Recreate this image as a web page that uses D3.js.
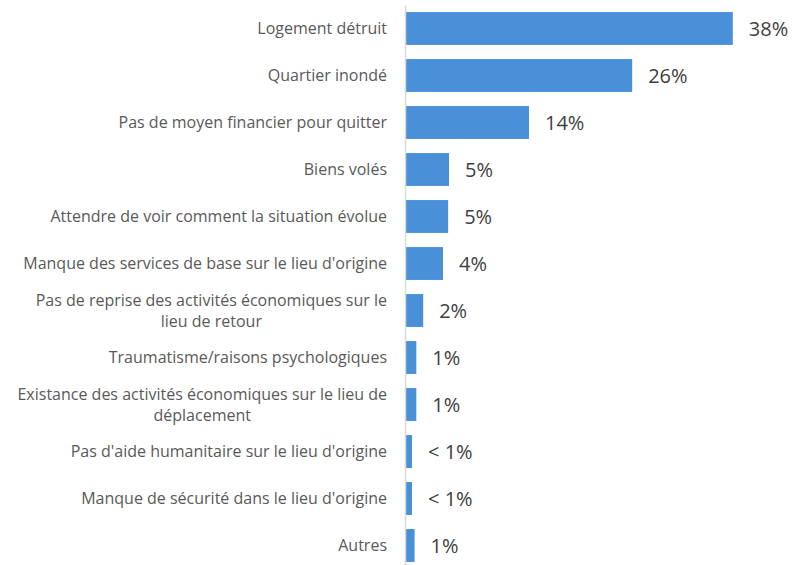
<!DOCTYPE html>
<html>
<head>
<meta charset="utf-8">
<script src="https://cdn.jsdelivr.net/npm/d3@7"></script>
<style>
  body { margin: 0; background: #fff; }
  svg { display: block; }
</style>
</head>
<body>
<svg id="chart"></svg>
<script>
  // categories, top to bottom
  const categories = [
    'Logement détruit',
    'Quartier inondé',
    'Pas de moyen financier pour quitter',
    'Biens volés',
    'Attendre de voir comment la situation évolue',
    'Manque des services de base sur le lieu d\'origine',
    'Pas de reprise des activités économiques sur le lieu de retour',
    'Traumatisme/raisons psychologiques',
    'Existance des activités économiques sur le lieu de déplacement',
    'Pas d\'aide humanitaire sur le lieu d\'origine',
    'Manque de sécurité dans le lieu d\'origine',
    'Autres'
  ];
  // percentages
  const values = [38.0, 26.3, 14.3, 5.0, 4.9, 4.3, 2.0, 1.2, 1.2, 0.7, 0.7, 1.0];
  const valueLabels = ['38%', '26%', '14%', '5%', '5%', '4%', '2%', '1%', '1%', '< 1%', '< 1%', '1%'];

  const w = 806;
  const h = 565;
  const x0 = 406;

  const svg = d3.select('#chart')
    .attr('width', w)
    .attr('height', h);

  const x = d3.scaleLinear()
    .domain([0, 40])
    .range([x0, x0 + 344]);

  const y = d3.scaleBand()
    .domain(categories)
    .range([5, 569])
    .paddingInner(0.3)
    .paddingOuter(0.15);

  const data = categories.map(function (c, i) {
    return { cat: c, value: values[i], label: valueLabels[i] };
  });

  svg.append('g')
    .attr('class', 'bars')
    .selectAll('rect')
    .data(data)
    .enter().append('rect')
    .attr('x', x(0))
    .attr('y', function (d) { return y(d.cat); })
    .attr('width', function (d) { return x(d.value) - x(0); })
    .attr('height', y.bandwidth())
    .attr('fill', '#4a90d9');

  svg.append('g')
    .attr('class', 'values')
    .selectAll('text')
    .data(data)
    .enter().append('text')
    .attr('x', function (d) { return x(d.value) + 16; })
    .attr('y', function (d) { return y(d.cat) + y.bandwidth() / 2; })
    .attr('dy', '0.36em')
    .attr('font-family', 'Open Sans, sans-serif')
    .attr('font-size', 20)
    .attr('fill', '#404040')
    .text(function (d) { return d.label; });

  // axis line on the left edge of the bars
  svg.append('line')
    .attr('x1', x0 - 0.5)
    .attr('x2', x0 - 0.5)
    .attr('y1', 6)
    .attr('y2', h)
    .attr('stroke', '#d9d9d9')
    .attr('stroke-width', 1.5);

  // category labels, wrapped like Excel (right aligned block, centred lines)
  const labelRight = 387;
  const maxWidth = 378;
  const lineHeight = 21;

  const labels = svg.append('g')
    .attr('class', 'labels')
    .attr('font-family', 'Open Sans, sans-serif')
    .attr('font-size', 16)
    .attr('fill', '#595959');

  data.forEach(function (d) {
    const t = labels.append('text')
      .attr('text-anchor', 'middle');
    const words = d.cat.split(' ');
    let lines = [];
    let line = [];
    const probe = t.append('tspan');
    words.forEach(function (word) {
      line.push(word);
      probe.text(line.join(' '));
      if (probe.node().getComputedTextLength() > maxWidth && line.length > 1) {
        line.pop();
        lines.push(line.join(' '));
        line = [word];
      }
    });
    lines.push(line.join(' '));
    probe.remove();

    let widest = 0;
    const spans = lines.map(function (l) {
      const s = t.append('tspan').text(l);
      widest = Math.max(widest, s.node().getComputedTextLength());
      return s;
    });
    const cx = labelRight - widest / 2;
    const cy = y(d.cat) + y.bandwidth() / 2;
    spans.forEach(function (s, i) {
      s.attr('x', cx)
        .attr('y', cy + (i - (lines.length - 1) / 2) * lineHeight)
        .attr('dy', '0.35em');
    });
  });
</script>
</body>
</html>
